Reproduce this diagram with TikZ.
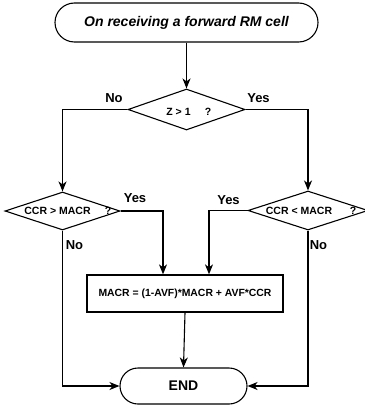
\documentclass[tikz,border=0pt]{standalone}
\usepackage{fontspec}
\setmainfont{Liberation Sans}
\usetikzlibrary{shapes.geometric,arrows.meta}
\tikzset{
  line/.style={line width=1.1pt},
  arr/.style={line, -{Stealth[length=10pt,width=8pt,inset=3pt]}},
  term/.style={draw, line width=1.1pt, rectangle, inner sep=0pt},
  dia/.style={draw, line width=1.1pt, diamond, inner sep=0pt},
  procbox/.style={draw, line width=1.3pt, rectangle, inner sep=0pt},
  lbl/.style={font=\fontsize{13}{13}\selectfont\bfseries, inner sep=0pt},
  dtxt/.style={font=\fontsize{10.5}{10.5}\selectfont\bfseries, inner sep=0pt},
}
\begin{document}
\begin{tikzpicture}[x=1pt,y=-1pt]
\useasboundingbox (0,0) rectangle (364,406);
\node[term, rounded corners=19.5pt, minimum width=263pt, minimum height=39pt,
  font=\fontsize{14}{14}\selectfont\bfseries\itshape] (start) at (186.5,22.5) {On receiving a forward RM cell};
\node[dia, minimum width=117pt, minimum height=41pt] (d1) at (186.5,109.5) {};
\node[dia, minimum width=115pt, minimum height=38pt] (d2) at (62.5,211) {};
\node[dia, minimum width=120pt, minimum height=39pt] (d3) at (308,210.5) {};
\node[procbox, minimum width=196pt, minimum height=37pt, font=\fontsize{10.4}{10.4}\selectfont\bfseries] (box) at (185,293.5) {MACR = (1-AVF)*MACR + AVF*CCR};
\node[term, rounded corners=18pt, minimum width=127pt, minimum height=36pt,
  font=\fontsize{14}{14}\selectfont\bfseries] (end) at (183.5,386) {END};

\node[dtxt] (t1) at (178.5,112) {Z > 1};
\node[dtxt] (q1) at (208,112) {?};
\node[dtxt] (t2) at (57.5,211) {CCR > MACR};
\node[dtxt] (q2) at (108,211) {?};
\node[dtxt] (t3) at (299,211) {CCR < MACR};
\node[dtxt] (q3) at (353,211) {?};

\node[lbl] (no1) at (114,98) {No};
\node[lbl] (yes1) at (258.5,98) {Yes};
\node[lbl] (yes2) at (135,198) {Yes};
\node[lbl] (yes3) at (228.5,200) {Yes};
\node[lbl] (no2) at (74.5,245) {No};
\node[lbl] (no3) at (318.5,245) {No};

\coordinate (k1) at (163,0);
\coordinate (k2) at (209,0);

\draw[arr] (start.south) -- (d1.north);
\draw[arr] (d1.west) -| (d2.north);
\draw[arr] (d1.east) -| (d3.north);
\draw[arr] (d2.east) -| (k1 |- box.north);
\draw[arr] (d3.west) -| (k2 |- box.north);
\draw[arr] (box.south) -- (end.north);
\draw[arr] (d2.south) |- (end.west);
\draw[arr] (d3.south) |- (end.east);
\end{tikzpicture}
\end{document}
